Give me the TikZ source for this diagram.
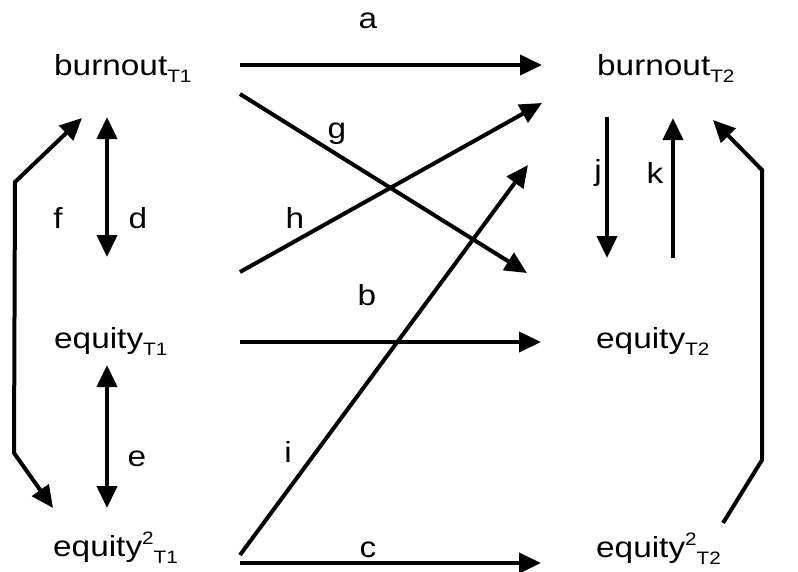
\documentclass[tikz,border=0pt]{standalone}
\usepackage{fontspec}
\setmainfont{Liberation Sans}[FakeStretch=1.15]
\usetikzlibrary{arrows.meta}
\newcommand\subT[1]{\raisebox{-7.5pt}{\fontsize{18}{18}\selectfont T#1}}
\newcommand\supTwo{\raisebox{12pt}{\fontsize{18}{18}\selectfont 2}}
\begin{document}
\begin{tikzpicture}[x=1pt,y=-1pt,
  var/.style={inner sep=0pt,anchor=base west,font=\fontsize{29}{34}\selectfont},
  lab/.style={inner sep=0pt,anchor=base,font=\fontsize{29}{34}\selectfont},
  conn/.style={line width=4pt,-{Triangle[length=22pt,width=20pt]}},
  dconn/.style={line width=4pt,{Triangle[length=22pt,width=20pt]}-{Triangle[length=22pt,width=20pt]}}]
\path[use as bounding box] (0,0) rectangle (798,571);
% variables
\node[var] (b1) at (54,75) {burnout\subT{1}};
\node[var] (b2) at (597,75) {burnout\subT{2}};
\node[var] (e1) at (54,348) {equity\subT{1}};
\node[var] (e2) at (596,348) {equity\subT{2}};
\node[var] (q1) at (53,556) {equity\supTwo\subT{1}};
\node[var] (q2) at (596,557) {equity\supTwo\subT{2}};
% labels
\node[lab] (la) at (368,28) {a};
\node[lab] (lg) at (337,138) {g};
\node[lab] (lh) at (295,228) {h};
\node[lab] (lb) at (367,305) {b};
\node[lab] (li) at (288,462) {i};
\node[lab] (lc) at (368,557) {c};
\node[lab] (ld) at (138,228) {d};
\node[lab] (lf) at (58,228) {f};
\node[lab] (le) at (137,466) {e};
\node[lab] (lj) at (598,180) {j};
\node[lab] (lk) at (655,183) {k};
% connector ends
\coordinate (aS) at (240,65);  \coordinate (aE) at (542,65);
\coordinate (gS) at (240,94);  \coordinate (gE) at (527,273);
\coordinate (hS) at (240,272); \coordinate (hE) at (542,103);
\coordinate (bS) at (240,342); \coordinate (bE) at (541,342);
\coordinate (iS) at (240,555); \coordinate (iE) at (528,165);
\coordinate (cS) at (240,563); \coordinate (cE) at (541,563);
\coordinate (dS) at (107,117); \coordinate (dE) at (107,257);
\coordinate (eS) at (107,365); \coordinate (eE) at (107,508);
\coordinate (fS) at (82,118);  \coordinate (f1) at (15,182);
\coordinate (f2) at (14,453);  \coordinate (fE) at (53,508);
\coordinate (jS) at (607,117); \coordinate (jE) at (607,258);
\coordinate (kS) at (673,258); \coordinate (kE) at (673,118);
\coordinate (rS) at (723,523); \coordinate (r1) at (762,460);
\coordinate (r2) at (762,170); \coordinate (rE) at (713,120);
% connectors
\draw[conn] (aS) -- (aE);
\draw[conn] (gS) -- (gE);
\draw[conn] (hS) -- (hE);
\draw[conn] (bS) -- (bE);
\draw[conn] (iS) -- (iE);
\draw[conn] (cS) -- (cE);
\draw[dconn] (dS) -- (dE);
\draw[dconn] (eS) -- (eE);
\draw[dconn,line join=miter] (fS) -- (f1) -- (f2) -- (fE);
\draw[conn] (jS) -- (jE);
\draw[conn] (kS) -- (kE);
\draw[conn,line join=miter] (rS) -- (r1) -- (r2) -- (rE);
\end{tikzpicture}
\end{document}
